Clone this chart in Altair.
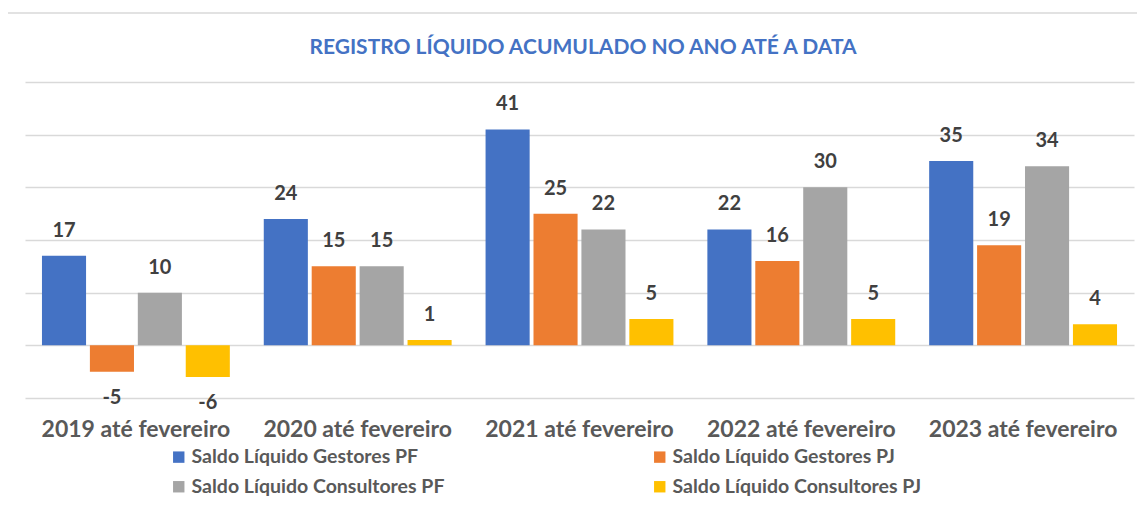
import altair as alt
import pandas as pd

categories = ["2019 até fevereiro", "2020 até fevereiro", "2021 até fevereiro",
              "2022 até fevereiro", "2023 até fevereiro"]
series = ["Saldo Líquido Gestores PF", "Saldo Líquido Gestores PJ",
          "Saldo Líquido Consultores PF", "Saldo Líquido Consultores PJ"]
gestores_pf = [17, 24, 41, 22, 35]
gestores_pj = [-5, 15, 25, 16, 19]
consultores_pf = [10, 15, 22, 30, 34]
consultores_pj = [-6, 1, 5, 5, 4]
colors = ["#4472C4", "#ED7D31", "#A5A5A5", "#FFC000"]
title_text = "REGISTRO LÍQUIDO ACUMULADO NO ANO ATÉ A DATA"

rows = []
for s, vals in zip(series, [gestores_pf, gestores_pj, consultores_pf, consultores_pj]):
    for c, v in zip(categories, vals):
        rows.append({"cat": c, "serie": s, "valor": v, "lbl": str(v)})
df = pd.DataFrame(rows)

FONT = "Lato"
W, H = 1109, 316

x_enc = alt.X("cat:N", sort=categories, title=None,
              scale=alt.Scale(paddingInner=0.153, paddingOuter=0.0765),
              axis=alt.Axis(labelAngle=0, labelFontSize=23, labelFontWeight="bold",
                            labelColor="#595959", labelFont=FONT, ticks=False,
                            domain=False, labelPadding=20, grid=False,
                            labelLimit=400))
xoff = alt.XOffset("serie:N", sort=series,
                   scale=alt.Scale(paddingInner=0.08, paddingOuter=0))
y_scale = alt.Scale(domain=[-10, 50], nice=False, zero=True)

base = alt.Chart(df)

bars = base.mark_bar().encode(
    x=x_enc,
    xOffset=xoff,
    y=alt.Y("valor:Q", scale=y_scale, title=None,
            axis=alt.Axis(values=[-10, 0, 10, 20, 30, 40, 50], labels=False,
                          ticks=False, domain=False, grid=True,
                          gridColor="#d9d9d9", gridWidth=1.5)),
    color=alt.Color("serie:N", sort=series,
                    scale=alt.Scale(domain=series, range=colors),
                    legend=alt.Legend(title=None, orient="none", legendX=144,
                                      legendY=365, columns=2, direction="horizontal",
                                      columnPadding=205, rowPadding=9,
                                      padding=0, symbolType="square",
                                      symbolSize=130, symbolStrokeWidth=0,
                                      labelFontSize=19.5, labelFontWeight="bold",
                                      labelColor="#595959", labelFont=FONT,
                                      labelOffset=3, labelLimit=500)),
)

pos_labels = base.transform_filter("datum.valor >= 0").mark_text(
    dy=-25, fontSize=20, fontWeight="bold", color="#404040", font=FONT,
    baseline="middle").encode(
    x=alt.X("cat:N", sort=categories), xOffset=xoff,
    y=alt.Y("valor:Q", scale=y_scale), text="lbl:N")

neg_labels = base.transform_filter("datum.valor < 0").mark_text(
    dy=26, fontSize=20, fontWeight="bold", color="#404040", font=FONT,
    baseline="middle").encode(
    x=alt.X("cat:N", sort=categories), xOffset=xoff,
    y=alt.Y("valor:Q", scale=y_scale), text="lbl:N")

single = alt.Data(values=[{"t": title_text}])

frame = alt.Chart(single).mark_rect(
    fillOpacity=0, stroke="#d9d9d9", strokeWidth=1.5).encode(
    x=alt.value(-19), x2=alt.value(1300), y=alt.value(-69), y2=alt.value(700))

title = alt.Chart(single).mark_text(
    fontSize=21, fontWeight="bold", color="#4472C4", font=FONT,
    baseline="middle", align="center").encode(
    x=alt.value(558), y=alt.value(-34), text="t:N")

chart = alt.layer(frame, title, bars, pos_labels, neg_labels).properties(
    width=W, height=H,
    autosize=alt.AutoSizeParams(type="none"),
    padding={"left": 17, "top": 74, "right": 3, "bottom": 100},
).configure_view(stroke=None)

chart.save("out.html", embed_options={"renderer": "svg", "actions": False})
